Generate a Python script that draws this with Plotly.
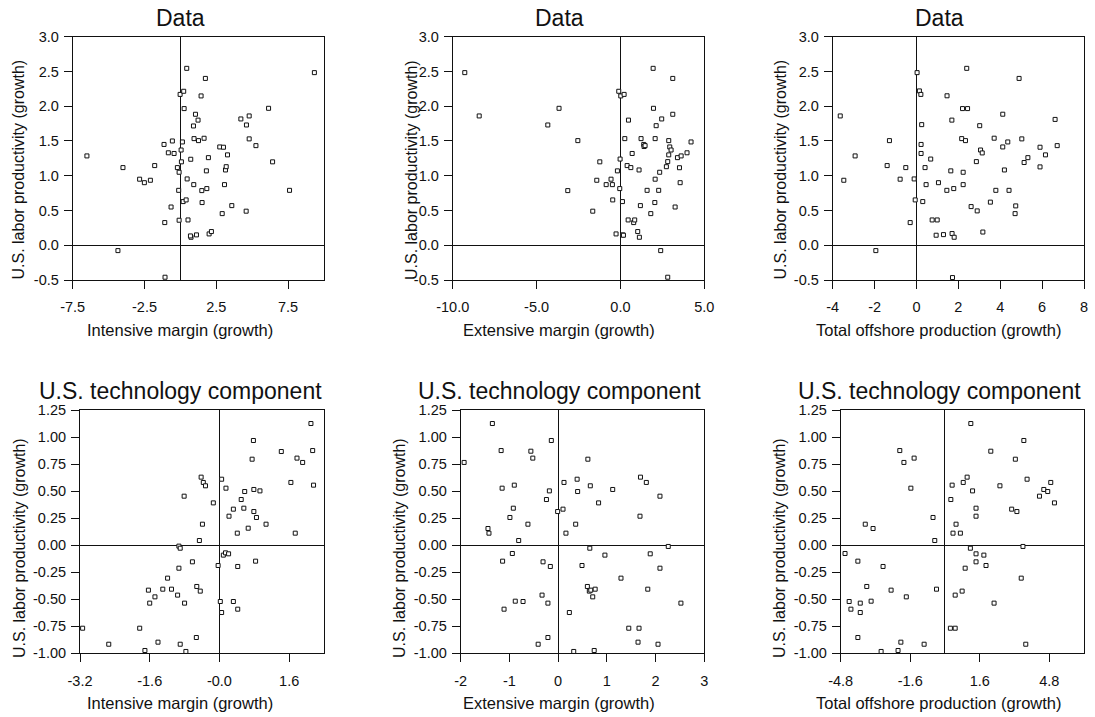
import plotly.graph_objects as go

# ---------------- data ----------------
# Top row: U.S. labor productivity growth against three offshoring measures
p1_x = [-6.51, -4.0, -4.35, -2.84, -2.51, -2.09, -1.79, -1.14, -1.09, -1.07, -0.84, -0.56, -0.44, -0.65,
        -0.21, -0.09, -0.12, -0.09, -0.02, 0.05, 0.07, 0.14, 0.19, 0.23, 0.26, 0.40, 0.44, 0.47, 0.53,
        0.72, 0.74, 0.70, 0.91, 0.93, 0.95, 1.05, 1.12, 1.23, 1.26, 1.44, 1.49, 1.51, 1.65, 1.74, 1.81,
        1.84, 1.95, 2.0, 2.16, 2.74, 3.0, 2.91, 3.07, 3.14, 3.19, 3.28, 3.58, 4.21, 4.58, 4.60, 4.79,
        4.79, 5.26, 6.14, 6.42, 7.60, 9.33]
p1_y = [1.285, 1.117, -0.077, 0.95, 0.90, 0.935, 1.146, 1.45, 0.326, -0.46, 1.33, 1.50, 1.32, 0.55,
        1.117, 1.05, 0.79, 0.36, 2.17, 1.37, 1.20, 1.486, 0.628, 2.215, 1.966, 0.652, 2.545, 0.954, 0.364,
        1.237, 0.115, 0.134, 1.716, 0.872, 1.534, 1.884, 0.149, 1.80, 1.505, 2.148, 0.786, 0.614, 1.539,
        2.40, 1.07, 0.815, 1.26, 0.163, 0.197, 1.414, 1.41, 0.455, 0.872, 1.083, 1.13, 1.30, 0.57,
        1.817, 0.49, 1.73, 1.86, 1.53, 1.433, 1.97, 1.20, 0.79, 2.483]

p2_x = [-9.28, -8.42, -4.33, -3.66, -3.14, -2.54, -1.65, -1.41, -1.23, -0.85, -0.56, -0.48, -0.46, -0.26,
        -0.18, -0.10, -0.04, -0.02, 0.02, 0.12, 0.14, 0.18, 0.22, 0.26, 0.40, 0.48, 0.46, 0.62, 0.70,
        0.79, 0.85, 1.03, 1.11, 1.13, 1.19, 1.23, 1.39, 1.41, 1.47, 1.59, 1.95, 1.97, 1.81, 2.05, 2.07,
        2.07, 2.13, 2.28, 2.34, 2.40, 2.46, 2.74, 2.82, 2.82, 2.88, 2.88, 2.94, 3.02, 3.12, 3.12, 3.26,
        3.40, 3.52, 3.56, 3.62, 3.97, 4.21]
p2_y = [2.483, 1.86, 1.73, 1.97, 0.786, 1.505, 0.49, 0.935, 1.20, 0.872, 0.95, 0.872, 0.652, 0.163,
        1.07, 2.215, 0.815, 1.24, 2.148, 0.628, 0.149, 0.144, 2.17, 1.534, 1.146, 1.80, 0.364, 1.117, 1.32,
        0.326, 0.364, 0.197, 1.083, 0.115, 0.57, 1.534, 1.45, 1.42, 1.433, 0.79, 2.545, 1.97, 0.455, 0.614,
        1.534, 0.95, 1.72, 0.79, 1.05, -0.077, 1.817, 1.13, 1.203, -0.46, 1.505, 1.30, 1.414, 1.37, 2.40,
        1.884, 0.55, 1.26, 1.115, 0.90, 1.285, 1.33, 1.486]

p3_x = [-3.64, -3.47, -2.93, -1.94, -1.40, -1.29, -0.78, -0.51, -0.30, -0.11, -0.06, 0.03, 0.14, 0.21,
        0.25, 0.22, 0.22, 0.30, 0.41, 0.46, 0.68, 0.75, 0.99, 0.94, 1.05, 1.29, 1.46, 1.45, 1.64, 1.69,
        1.70, 1.72, 1.78, 1.80, 2.16, 2.20, 2.23, 2.23, 2.34, 2.40, 2.44, 2.61, 2.86, 2.90, 3.02, 3.06,
        3.14, 3.17, 3.53, 3.71, 3.79, 4.12, 4.12, 4.20, 4.36, 4.42, 4.71, 4.74, 4.90, 5.03, 5.14, 5.32,
        5.90, 5.90, 6.16, 6.62, 6.72]
p3_y = [1.86, 0.935, 1.285, -0.077, 1.146, 1.505, 0.95, 1.117, 0.326, 0.954, 0.652, 2.483, 2.22, 2.17,
        1.735, 1.45, 1.32, 0.628, 1.117, 0.872, 1.24, 0.364, 0.364, 0.144, 0.90, 0.153, 2.15, 0.79, 1.07,
        1.80, 0.168, -0.465, 0.815, 0.115, 1.534, 1.966, 1.05, 0.872, 1.505, 2.545, 1.966, 0.556, 1.203,
        0.494, 1.72, 1.37, 1.328, 0.19, 0.62, 1.54, 0.79, 1.885, 1.414, 1.083, 1.486, 0.79, 0.455, 0.566,
        2.40, 1.53, 1.19, 1.26, 1.41, 1.127, 1.30, 1.81, 1.433]

# Bottom row: technology component of U.S. labor productivity growth
p4_x = [-3.14, -2.54, -1.83, -1.71, -1.63, -1.60, -1.48, -1.41, -1.30, -1.19, -1.10, -0.96, -0.93, -0.93,
        -0.90, -0.90, -0.81, -0.80, -0.77, -0.62, -0.53, -0.52, -0.46, -0.44, -0.42, -0.39, -0.37, -0.32,
        -0.14, -0.03, 0.02, 0.05, 0.05, 0.09, 0.14, 0.15, 0.21, 0.22, 0.32, 0.32, 0.41, 0.42, 0.42, 0.50,
        0.56, 0.58, 0.66, 0.75, 0.78, 0.79, 0.79, 0.83, 0.85, 0.93, 1.07, 1.42, 1.64, 1.74, 1.78, 1.91,
        2.10, 2.14, 2.16]
p4_y = [-0.768, -0.916, -0.768, -0.974, -0.416, -0.536, -0.478, -0.897, -0.407, -0.305, -0.407, -0.462,
        -0.213, -0.009, -0.028, -0.916, 0.453, -0.536, -0.983, -0.154, -0.854, -0.382, 0.043, -0.425, 0.629,
        0.194, 0.58, 0.549, 0.391, -0.188, -0.521, -0.623, 0.61, -0.092, -0.071, 0.527, -0.08, 0.268, 0.333,
        -0.521, 0.111, -0.197, -0.592, 0.422, 0.342, 0.496, 0.157, 0.795, 0.968, 0.515, 0.311, -0.148, 0.256,
        0.502, 0.194, 0.866, 0.58, 0.111, 0.805, 0.765, 1.125, 0.875, 0.555]

p5_x = [-1.93, -1.44, -1.42, -1.35, -1.17, -1.15, -1.14, -1.11, -0.99, -0.94, -0.92, -0.90, -0.88, -0.81,
        -0.72, -0.62, -0.56, -0.52, -0.41, -0.33, -0.31, -0.24, -0.21, -0.21, -0.18, -0.16, -0.14, -0.01,
        0.10, 0.12, 0.16, 0.23, 0.32, 0.36, 0.39, 0.40, 0.49, 0.60, 0.61, 0.64, 0.65, 0.66, 0.67, 0.71,
        0.74, 0.76, 0.83, 0.96, 1.12, 1.29, 1.45, 1.64, 1.66, 1.68, 1.69, 1.81, 1.84, 1.89, 2.05, 2.09,
        2.09, 2.26, 2.52]
p5_y = [0.765, 0.154, 0.111, 1.125, 0.875, 0.527, -0.148, -0.592, 0.256, -0.077, 0.342, 0.555, -0.518,
        0.043, -0.521, 0.194, 0.869, 0.805, -0.916, -0.462, -0.154, 0.422, -0.536, -0.854, 0.502, -0.197,
        0.968, 0.311, 0.333, 0.58, 0.111, -0.623, -0.983, 0.194, 0.61, 0.496, -0.188, -0.382, 0.795,
        -0.425, -0.028, 0.549, -0.416, -0.478, -0.974, -0.407, 0.391, -0.092, 0.515, -0.305, -0.768,
        -0.897, -0.768, 0.268, 0.629, 0.58, -0.407, -0.08, -0.916, 0.453, -0.213, -0.012, -0.536]

p6_x = [-4.60, -4.41, -4.33, -4.01, -4.01, -3.90, -3.90, -3.67, -3.60, -3.40, -3.31, -2.94, -2.85, -2.48,
        -2.16, -2.08, -2.03, -1.89, -1.78, -1.57, -1.42, -0.96, -0.55, -0.47, -0.39, 0.25, 0.27, 0.33,
        0.37, 0.47, 0.47, 0.51, 0.71, 0.79, 0.84, 0.93, 1.02, 1.17, 1.19, 1.27, 1.43, 1.43, 1.43, 1.43,
        1.79, 1.89, 2.11, 2.26, 2.53, 3.07, 3.24, 3.31, 3.51, 3.59, 3.63, 3.72, 3.78, 4.35, 4.55, 4.73,
        4.87, 5.04]
p6_y = [-0.077, -0.521, -0.592, -0.148, -0.854, -0.536, -0.623, 0.194, -0.382, -0.518, 0.154, -0.983,
        -0.197, -0.416, -0.974, 0.875, -0.897, 0.765, -0.478, 0.527, 0.805, -0.916, 0.256, 0.043, -0.407,
        -0.768, 0.422, 0.555, 0.111, -0.462, -0.768, 0.194, 0.111, -0.425, 0.58, -0.213, 0.629, -0.028,
        1.125, 0.502, 0.342, 0.268, -0.08, -0.154, -0.092, -0.188, 0.869, -0.536, 0.549, 0.333, 0.795,
        0.311, -0.305, -0.012, 0.968, -0.916, 0.61, 0.453, 0.515, 0.496, 0.58, 0.391]

# Axis ticks
top_y_ticks = [-0.5, 0.0, 0.5, 1.0, 1.5, 2.0, 2.5, 3.0]
top_y_text = ["-0.5", "0.0", "0.5", "1.0", "1.5", "2.0", "2.5", "3.0"]
bot_y_ticks = [-1.0, -0.75, -0.5, -0.25, 0.0, 0.25, 0.5, 0.75, 1.0, 1.25]
bot_y_text = ["-1.00", "-0.75", "-0.50", "-0.25", "0.00", "0.25", "0.50", "0.75", "1.00", "1.25"]

p1_ticks, p1_text = [-7.5, -2.5, 2.5, 7.5], ["-7.5", "-2.5", "2.5", "7.5"]
p2_ticks, p2_text = [-10, -5, 0, 5], ["-10.0", "-5.0", "0.0", "5.0"]
p3_ticks, p3_text = [-4, -2, 0, 2, 4, 6, 8], ["-4", "-2", "0", "2", "4", "6", "8"]
p4_ticks, p4_text = [-3.2, -1.6, 0, 1.6], ["-3.2", "-1.6", "-0.0", "1.6"]
p5_ticks, p5_text = [-2, -1, 0, 1, 2, 3], ["-2", "-1", "0", "1", "2", "3"]
p6_ticks, p6_text = [-4.8, -1.6, 1.6, 4.8], ["-4.8", "-1.6", "1.6", "4.8"]

top_title = "Data"
bot_title = "U.S. technology component"
y_label = "U.S. labor productivity (growth)"
x_labels = ["Intensive margin (growth)", "Extensive margin (growth)", "Total offshore production (growth)"]

# ---------------- layout ----------------
W, H = 1095, 717
FONT = "Liberation Sans, Arial, Helvetica, sans-serif"
INK = "#111111"

panels = [
    # x, y, xrange, yrange, xticks, xtext, yticks, ytext, frame px (left, right, top, bottom)
    (p1_x, p1_y, [-7.5, 10.0], [-0.5, 3.0], p1_ticks, p1_text, top_y_ticks, top_y_text, (72.7, 324, 36.7, 280)),
    (p2_x, p2_y, [-10, 5], [-0.5, 3.0], p2_ticks, p2_text, top_y_ticks, top_y_text, (452.7, 704.3, 36.7, 280)),
    (p3_x, p3_y, [-4, 8], [-0.5, 3.0], p3_ticks, p3_text, top_y_ticks, top_y_text, (832.7, 1084, 36.7, 280)),
    (p4_x, p4_y, [-3.2, 2.4], [-1.0, 1.25], p4_ticks, p4_text, bot_y_ticks, bot_y_text, (80, 324, 410, 653.3)),
    (p5_x, p5_y, [-2, 3], [-1.0, 1.25], p5_ticks, p5_text, bot_y_ticks, bot_y_text, (460.7, 704.3, 410, 653.3)),
    (p6_x, p6_y, [-4.8, 6.4], [-1.0, 1.25], p6_ticks, p6_text, bot_y_ticks, bot_y_text, (840.7, 1084, 410, 653.3)),
]

fig = go.Figure()
layout = dict(
    template="none",
    width=W, height=H,
    margin=dict(l=0, r=0, t=0, b=0, pad=0, autoexpand=False),
    paper_bgcolor="white", plot_bgcolor="white",
    showlegend=False,
    font=dict(family=FONT, color=INK),
)

axis_common = dict(
    automargin=False,
    showgrid=False,
    zeroline=True, zerolinecolor=INK, zerolinewidth=1,
    showline=True, linecolor=INK, linewidth=1, mirror=True,
    ticks="outside", ticklen=8, tickwidth=1, tickcolor=INK,
    tickfont=dict(family=FONT, size=14.5, color=INK),
    tickmode="array",
)

for i, (xs, ys, xr, yr, xt, xtt, yt, ytt, (l, r, t, b)) in enumerate(panels, start=1):
    sfx = "" if i == 1 else str(i)
    fig.add_trace(go.Scatter(
        x=xs, y=ys, mode="markers",
        marker=dict(symbol="square", size=4, color="white", line=dict(color=INK, width=1)),
        xaxis="x" + sfx, yaxis="y" + sfx, hoverinfo="x+y",
    ))
    layout["xaxis" + sfx] = dict(
        axis_common, range=xr, tickvals=xt, ticktext=xtt,
        domain=[l / W, r / W], anchor="y" + sfx, ticklabelstandoff=6,
    )
    layout["yaxis" + sfx] = dict(
        axis_common, range=yr, tickvals=yt, ticktext=ytt,
        domain=[1 - b / H, 1 - t / H], anchor="x" + sfx, ticklabelstandoff=2,
    )

# Panel titles and axis labels
col_centers = [180, 559, 939]
ytitle_x = [[17.5, 411, 779.5], [19, 399, 779]]
annotations = []
for c, cx in enumerate(col_centers):
    for row, (title, ty, xy, yy) in enumerate([(top_title, 18, 330, 170), (bot_title, 391, 703, 548)]):
        annotations.append(dict(
            text=title, x=cx / W, y=1 - ty / H, xref="paper", yref="paper",
            xanchor="center", yanchor="middle", showarrow=False,
            font=dict(family=FONT, size=23, color=INK),
        ))
        annotations.append(dict(
            text=x_labels[c], x=cx / W, y=1 - xy / H, xref="paper", yref="paper",
            xanchor="center", yanchor="middle", showarrow=False,
            font=dict(family=FONT, size=16.5, color=INK),
        ))
        annotations.append(dict(
            text=y_label, x=ytitle_x[row][c] / W, y=1 - yy / H, xref="paper", yref="paper",
            xanchor="center", yanchor="middle", showarrow=False, textangle=-90,
            font=dict(family=FONT, size=16, color=INK),
        ))
layout["annotations"] = annotations

fig.update_layout(**layout)
fig.write_html("out.html")
